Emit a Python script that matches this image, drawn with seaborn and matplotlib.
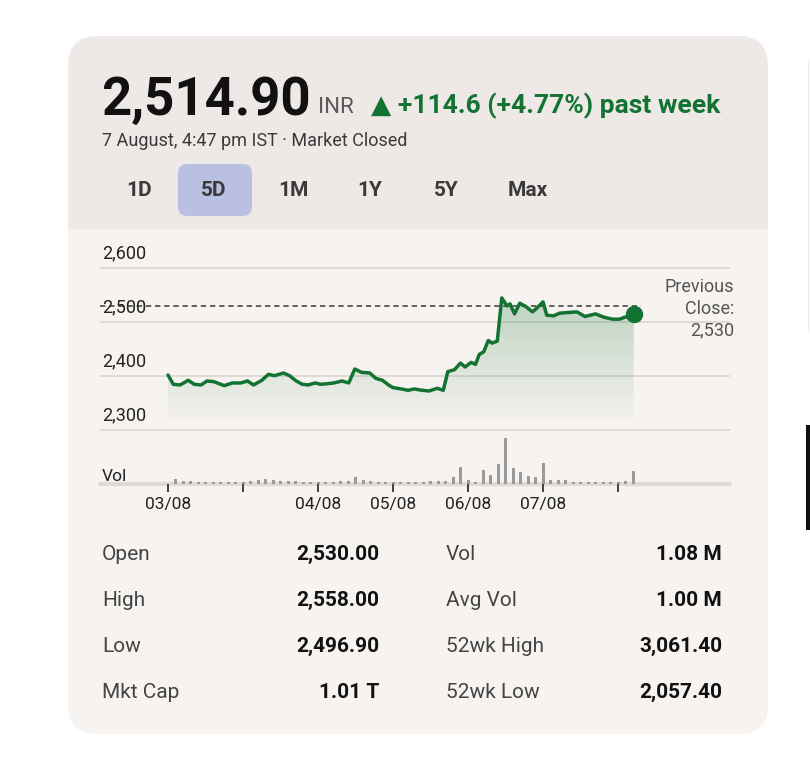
import numpy as np
import matplotlib.pyplot as plt
import seaborn as sns
from matplotlib.patches import FancyBboxPatch, Rectangle
from matplotlib.colors import LinearSegmentedColormap
from matplotlib.transforms import blended_transform_factory

sns.set_theme(style="white")
plt.rcParams["font.family"] = ["Roboto", "DejaVu Sans"]

# price path, x in day-tick units (0 = 03/08)
price_t = [0.00, 0.07, 0.16, 0.27, 0.35, 0.44, 0.52, 0.61, 0.75, 0.86,
           0.97, 1.06, 1.14, 1.25, 1.34, 1.42, 1.54, 1.62, 1.71, 1.79,
           1.87, 1.96, 2.04, 2.13, 2.21, 2.32, 2.41, 2.49, 2.58, 2.69,
           2.77, 2.86, 2.94, 3.00, 3.11, 3.20, 3.28, 3.39, 3.48, 3.59,
           3.67, 3.73, 3.82, 3.90, 3.96, 4.04, 4.10, 4.15, 4.21, 4.27,
           4.32, 4.39, 4.45, 4.52, 4.56, 4.62, 4.69, 4.77, 4.86, 4.92,
           5.00, 5.05, 5.14, 5.22, 5.33, 5.45, 5.56, 5.70, 5.81, 5.93,
           6.02, 6.09, 6.16, 6.21]
price = [2401.8, 2384.6, 2383.4, 2392.0, 2384.6, 2383.4, 2390.8, 2389.5, 2382.2, 2387.1,
         2387.1, 2390.8, 2383.4, 2392.0, 2403.1, 2400.6, 2405.5, 2400.6, 2390.8, 2384.6,
         2383.4, 2387.1, 2384.6, 2385.8, 2387.1, 2390.8, 2387.1, 2412.9, 2406.8, 2405.5,
         2395.7, 2392.0, 2383.4, 2378.5, 2376.0, 2373.5, 2376.0, 2373.5, 2372.3, 2377.2,
         2373.5, 2408.0, 2411.7, 2424.0, 2416.6, 2425.2, 2421.5, 2440.0, 2444.9, 2465.8,
         2460.9, 2464.6, 2544.6, 2529.8, 2533.5, 2515.1, 2534.8, 2528.6, 2518.8, 2526.2,
         2537.2, 2512.6, 2511.4, 2516.3, 2517.5, 2518.8, 2510.2, 2515.1, 2508.9, 2505.2,
         2505.2, 2508.9, 2510.2, 2514.9]

# volume per time slot (slot k sits at k/10 day-ticks), thousands of shares
vol_slot = list(range(1, 63))
vol_k = [83, 44, 44, 39, 39, 39, 33, 33, 28, 28,
         55, 66, 77, 66, 50, 44, 44, 39, 33, 33,
         39, 39, 44, 55, 110, 61, 44, 39, 39, 33,
         33, 39, 39, 39, 44, 44, 55, 116, 286, 72,
         39, 237, 154, 330, 754, 270, 204, 127, 110, 347,
         72, 61, 72, 39, 39, 39, 39, 33, 33, 39,
         55, 209]

day_ticks = [0, 1, 2, 3, 4, 5, 6]
day_labels = ["03/08", "", "04/08", "05/08", "06/08", "07/08", ""]
grid_levels = [2300, 2400, 2500, 2600]
grid_labels = ["2,300", "2,400", "2,500", "2,600"]
prev_close = 2530

ranges = ["1D", "5D", "1M", "1Y", "5Y", "Max"]
stat_names_l = ["Open", "High", "Low", "Mkt Cap"]
stat_vals_l = ["2,530.00", "2,558.00", "2,496.90", "1.01 T"]
stat_names_r = ["Vol", "Avg Vol", "52wk High", "52wk Low"]
stat_vals_r = ["1.08 M", "1.00 M", "3,061.40", "2,057.40"]

green = "#137333"
head_bg = "#eee9e6"
body_bg = "#f6f3f0"
grid_c = "#dedad6"

W, H = 810, 764
fig = plt.figure(figsize=(W / 100, H / 100), dpi=100)
fig.patch.set_facecolor("white")


def px_axes(x0, y0, x1, y1):
    return fig.add_axes([x0 / W, 1 - y1 / H, (x1 - x0) / W, (y1 - y0) / H])


# background / card
bg = px_axes(0, 0, W, H)
bg.set_xlim(0, W)
bg.set_ylim(H, 0)
bg.axis("off")
bg.add_patch(FancyBboxPatch((68, 36), 700, 698, boxstyle="round,pad=0,rounding_size=30",
                            fc=head_bg, ec="none"))
bg.add_patch(Rectangle((68, 229), 700, 60, fc=body_bg, ec="none"))
bg.add_patch(FancyBboxPatch((68, 229), 700, 505, boxstyle="round,pad=0,rounding_size=30",
                            fc=body_bg, ec="none"))
# bits of the neighbouring card at the right edge
bg.add_patch(Rectangle((806, 425), 5, 105, fc="#111111", ec="none"))
bg.plot([808, 808], [60, 330], color="#ececec", lw=1)

# header
bg.text(101, 115, "2,514.90", fontsize=38, fontweight="bold", color="#111111", va="baseline")
bg.text(318, 113, "INR", fontsize=16, color="#5a5a5a", va="baseline")
bg.text(371, 113, "▲ +114.6 (+4.77%) past week", fontsize=19, fontweight="bold",
        color=green, va="baseline")
bg.text(102, 146, "7 August, 4:47 pm IST · Market Closed", fontsize=13,
        color="#3a3a3a", va="baseline")

bg.add_patch(FancyBboxPatch((178, 164), 74, 52, boxstyle="round,pad=0,rounding_size=9",
                            fc="#b9c0e2", ec="none"))
for lab, cx in zip(ranges, [139, 214, 293, 370, 446, 528]):
    bg.text(cx, 190, lab, fontsize=15, fontweight="bold", color="#3a3a3a",
            ha="center", va="center")

# previous close note
for line, cy in zip(["Previous", "Close:", "2,530"], [287, 309, 330]):
    bg.text(734, cy, line, fontsize=13, color="#555555", ha="right", va="center")

# stats table
for i, cy in enumerate([554, 600, 646, 692]):
    bg.text(102, cy, stat_names_l[i], fontsize=15, color="#444444", va="center")
    bg.text(379, cy, stat_vals_l[i], fontsize=15, fontweight="bold", color="#111111",
            ha="right", va="center")
    bg.text(446, cy, stat_names_r[i], fontsize=15, color="#444444", va="center")
    bg.text(722, cy, stat_vals_r[i], fontsize=15, fontweight="bold", color="#111111",
            ha="right", va="center")

# price panel
xlim = (-0.907, 7.493)
ax = px_axes(100, 241, 730, 440.8)
ax.patch.set_visible(False)

for lvl in grid_levels:
    ax.axhline(lvl, color=grid_c, lw=1.4, zorder=0)

poly = ax.fill_between(price_t, price, 2300, facecolor="none", edgecolor="none")
cmap = LinearSegmentedColormap.from_list(
    "fade", [(0.075, 0.45, 0.2, 0.0), (0.075, 0.45, 0.2, 0.25)])
grad = np.linspace(0, 1, 256).reshape(-1, 1)
im = ax.imshow(grad, cmap=cmap, aspect="auto", origin="lower", zorder=1,
               extent=(price_t[0], price_t[-1], 2310, 2545))
im.set_clip_path(poly.get_paths()[0], transform=ax.transData)

ax.plot([xlim[0], 6.3], [prev_close, prev_close], color="#3a3a3a", lw=1.1,
        ls=(0, (3.5, 2.5)), zorder=2)
sns.lineplot(x=price_t, y=price, ax=ax, color=green, lw=2.5, zorder=3)
ax.plot(price_t[-1], price[-1], "o", ms=11.5, color=green, zorder=4)

tr = blended_transform_factory(ax.transAxes, ax.transData)
for lvl, lab in zip(grid_levels, grid_labels):
    ax.text(0.003, lvl + 28, lab, transform=tr, fontsize=13, color="#222222", va="center")

ax.set_xlim(*xlim)
ax.set_ylim(2280, 2650)
ax.set_xticks([])
ax.set_yticks([])
ax.set_xlabel("")
ax.set_ylabel("")
sns.despine(ax=ax, left=True, bottom=True)

# volume panel
axv = px_axes(100, 434, 730, 484)
axv.patch.set_visible(False)
vol_x = [s / 10 for s in vol_slot]
axv.axhline(0, color=grid_c, lw=3, zorder=0, clip_on=False)
sns.barplot(x=vol_x, y=vol_k, native_scale=True, width=0.4, color="#9a9a9a",
            saturation=1, linewidth=0, errorbar=None, ax=axv, zorder=2)
axv.set_xlim(*xlim)
axv.set_ylim(0, 820)
axv.set_yticks([])
axv.set_xticks(day_ticks, day_labels)
axv.tick_params(axis="x", length=5.8, width=1.3, color="#333333", direction="out",
                pad=3.5, labelsize=12.5, labelcolor="#222222", bottom=True)
axv.set_xlabel("")
axv.set_ylabel("")
sns.despine(ax=axv, left=True, bottom=True)
axv.text(0.003, 0.15, "Vol", transform=axv.transAxes, fontsize=12.5, color="#222222",
         va="center")

fig.savefig("out.png", dpi=100)
